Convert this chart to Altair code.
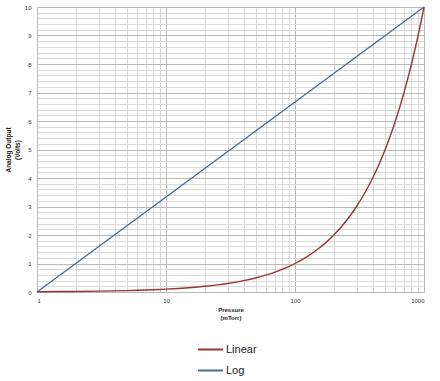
import altair as alt
import pandas as pd

# Data
pressure = [1, 2, 3, 4, 5, 6, 7, 8, 9, 10, 15, 20, 25, 30, 40, 50, 60, 70, 80, 90,
            100, 125, 150, 175, 200, 250, 300, 350, 400, 450, 500, 550, 600, 650,
            700, 750, 800, 850, 900, 950, 1000]
linear_volts = [0.01, 0.02, 0.03, 0.04, 0.05, 0.06, 0.07, 0.08, 0.09, 0.1, 0.15,
                0.2, 0.25, 0.3, 0.4, 0.5, 0.6, 0.7, 0.8, 0.9,
                1.0, 1.25, 1.5, 1.75, 2.0, 2.5, 3.0, 3.5, 4.0, 4.5, 5.0, 5.5, 6.0, 6.5,
                7.0, 7.5, 8.0, 8.5, 9.0, 9.5, 10.0]
log_pressure = [1, 10, 100, 1000]
log_volts = [0.0, 3.333, 6.667, 10.0]

x_grid = [1, 2, 3, 4, 5, 6, 7, 8, 9, 10, 20, 30, 40, 50, 60, 70, 80, 90,
          100, 200, 300, 400, 500, 600, 700, 800, 900, 1000]
x_labels = [1, 10, 100, 1000]
y_grid = [round(i * 0.2, 1) for i in range(51)]
y_labels = list(range(11))

series_names = ["Linear", "Log"]
series_colors = ["#953735", "#4A6B94"]

rows = []
for p, v in zip(pressure, linear_volts):
    rows.append({"Pressure": p, "Volts": v, "Series": "Linear"})
for p, v in zip(log_pressure, log_volts):
    rows.append({"Pressure": p, "Volts": v, "Series": "Log"})
df = pd.DataFrame(rows)

x_lab_expr = "indexof([" + ",".join(str(v) for v in x_labels) + "], datum.value) >= 0 ? format(datum.value, 'd') : ''"
y_lab_expr = "datum.value % 1 === 0 ? format(datum.value, 'd') : ''"

font = "Liberation Sans"

chart = alt.Chart(df).mark_line(strokeWidth=1.4, interpolate="monotone").encode(
    x=alt.X("Pressure:Q",
            scale=alt.Scale(type="log", domain=[1, 1000], nice=False),
            axis=alt.Axis(values=x_grid, labelExpr=x_lab_expr, ticks=False,
                          domain=False, labelFontSize=6, labelColor="#333",
                          labelPadding=5, labelFont=font,
                          title=["Pressure", "(mTorr)"], titleFontSize=6,
                          titleFont=font, titleFontWeight="bold",
                          titlePadding=3, titleColor="#222",
                          gridColor={"condition": {"test": "indexof([1,10,100,1000], datum.value) >= 0", "value": "#b8b8b8"}, "value": "#d9d9d9"},
                          gridWidth=1)),
    y=alt.Y("Volts:Q",
            scale=alt.Scale(domain=[0, 10], nice=False),
            axis=alt.Axis(values=y_grid, labelExpr=y_lab_expr, ticks=False,
                          domain=False, labelFontSize=6, labelColor="#333",
                          labelPadding=6, labelFont=font,
                          title=["Analog Output", "(Volts)"], titleFontSize=6.5,
                          titleFont=font, titleFontWeight="bold",
                          titlePadding=4, titleColor="#222",
                          gridColor={"condition": {"test": "datum.value % 1 === 0", "value": "#b8b8b8"}, "value": "#d9d9d9"},
                          gridWidth=1)),
    color=alt.Color("Series:N",
                    scale=alt.Scale(domain=series_names, range=series_colors),
                    legend=alt.Legend(orient="none", legendX=160, legendY=329,
                                      title=None, symbolType="stroke",
                                      symbolSize=625, symbolStrokeWidth=2,
                                      labelFontSize=11, labelFont=font,
                                      labelColor="#222", rowPadding=2,
                                      labelOffset=2)),
).properties(
    width=387, height=285,
    autosize=alt.AutoSizeParams(type="none"),
    padding={"left": 37, "top": 7, "right": 16, "bottom": 89},
).configure_view(stroke=None).configure(background="white")

chart.save("out.html", embed_options={"renderer": "svg", "actions": False})
